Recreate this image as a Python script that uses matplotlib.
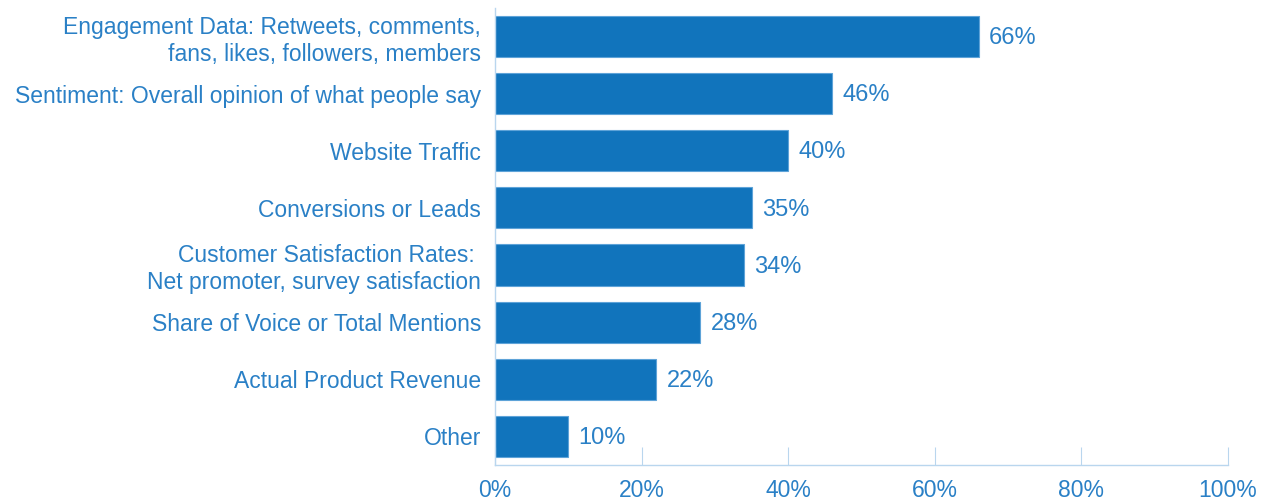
import matplotlib.pyplot as plt
import numpy as np

plt.rcParams['font.family'] = ['Liberation Sans', 'DejaVu Sans']

categories = [
    "Engagement Data: Retweets, comments,\nfans, likes, followers, members",
    "Sentiment: Overall opinion of what people say",
    "Website Traffic",
    "Conversions or Leads",
    "Customer Satisfaction Rates: \nNet promoter, survey satisfaction",
    "Share of Voice or Total Mentions",
    "Actual Product Revenue",
    "Other",
]
values = [66, 46, 40, 35, 34, 28, 22, 10]
xticks = [0, 20, 40, 60, 80, 100]
xtick_labels = ["0%", "20%", "40%", "60%", "80%", "100%"]

bar_color = "#1174BC"
text_color = "#2A80C6"
axis_color = "#B9D6EE"

fig = plt.figure(figsize=(12.65, 5.03), dpi=100)
ax = fig.add_axes([0.3913, 0.0755, 0.5795, 0.909])

y = np.arange(len(categories))
ax.barh(y, values, height=0.72, color=bar_color, edgecolor="#5EA3D8", linewidth=0.8)

for yi, v in zip(y, values):
    ax.text(v + 1.4, yi + 0.03, f"{v}%", va="center", ha="left", fontsize=17, color=text_color)

ax.set_xlim(0, 100)
ax.set_ylim(7.5, -0.5)
ax.set_yticks(y)
ax.set_yticklabels(categories, fontsize=16.5, color=text_color, linespacing=1.22)
ax.set_xticks(xticks)
ax.set_xticklabels(xtick_labels, fontsize=16.5, color=text_color)

ax.tick_params(axis="y", length=0, pad=10)
ax.tick_params(axis="x", direction="in", length=13, color=axis_color, pad=10)

for s in ["top", "right"]:
    ax.spines[s].set_visible(False)
for s in ["left", "bottom"]:
    ax.spines[s].set_color(axis_color)
    ax.spines[s].set_linewidth(1)

for lbl in ax.get_xticklabels():
    lbl.set_clip_on(False)

fig.savefig("out.png", dpi=100)
